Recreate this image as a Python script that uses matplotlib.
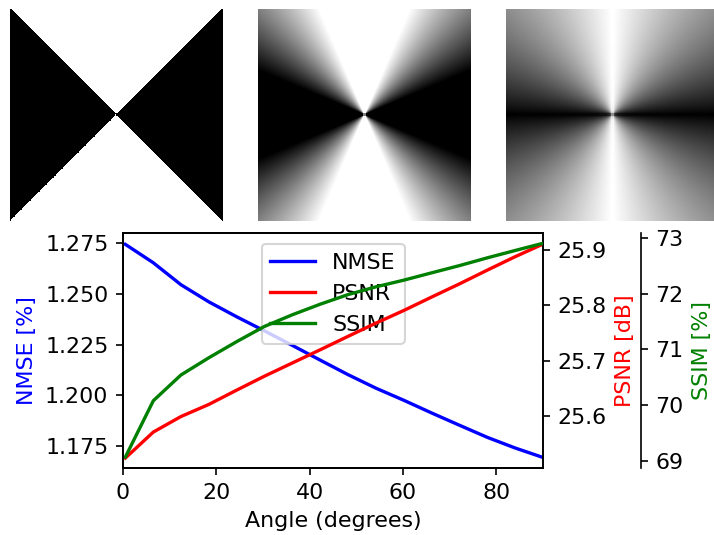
import numpy as np
import matplotlib
matplotlib.use('Agg')
import matplotlib.pyplot as plt

# angles (degrees) and metrics
angles = [0.5, 6.5, 12.4, 18.4, 24.4, 30.3, 36.3, 42.3, 48.2, 54.2, 60.2, 66.1, 72.1, 78.1, 84.0, 90.0]
nmse = [1.2745, 1.2654, 1.2546, 1.2461, 1.2387, 1.2318, 1.2246, 1.2173, 1.2102, 1.2035,
        1.1975, 1.1913, 1.1852, 1.1792, 1.1740, 1.1693]
psnr = [25.524, 25.571, 25.599, 25.621, 25.647, 25.672, 25.696, 25.720, 25.744, 25.768,
        25.791, 25.815, 25.839, 25.864, 25.888, 25.911]
ssim = [69.07, 70.08, 70.54, 70.85, 71.14, 71.41, 71.62, 71.81, 71.98, 72.12,
        72.24, 72.37, 72.50, 72.64, 72.77, 72.90]

plt.rcParams['font.size'] = 10.6

W, H = 714, 535
fig = plt.figure(figsize=(W / 150, H / 150), dpi=150)


def px_axes(x0, y0, x1, y1):
    # axes from pixel box (top-left origin)
    return fig.add_axes([x0 / W, 1 - y1 / H, (x1 - x0) / W, (y1 - y0) / H])


# angular test images
n = 212
yy, xx = np.mgrid[1:-1:n * 1j, -1:1:n * 1j]
theta = np.degrees(np.arctan2(np.abs(yy), np.abs(xx)))  # 0 = horizontal, 90 = vertical
img1 = (theta > 45).astype(float)
img2 = np.clip((theta - 22.5) / 44.5, 0, 1)
img3 = (theta / 90) ** 0.85

for x0, img in zip([10, 258, 506], [img1, img2, img3]):
    ax = px_axes(x0, 9, x0 + 213, 221)
    ax.imshow(img, cmap='gray', vmin=0, vmax=1, aspect='auto', interpolation='nearest')
    ax.axis('off')

ax1 = px_axes(123, 233, 543, 468)
ax2 = ax1.twinx()
ax3 = ax1.twinx()
ax3.spines['right'].set_position(('axes', 1.233))

l1, = ax1.plot(angles, nmse, color='blue', lw=1.6, label='NMSE')
l2, = ax2.plot(angles, psnr, color='red', lw=1.6, label='PSNR')
l3, = ax3.plot(angles, ssim, color='green', lw=1.6, label='SSIM')

ax1.set_xlim(0, 90)
ax1.set_ylim(1.1641, 1.2801)
ax2.set_ylim(25.506, 25.931)
ax3.set_ylim(68.875, 73.084)
ax1.set_yticks([1.175, 1.200, 1.225, 1.250, 1.275])
ax2.set_yticks([25.6, 25.7, 25.8, 25.9])
ax3.set_yticks([69, 70, 71, 72, 73])

ax1.set_xlabel('Angle (degrees)')
ax1.set_ylabel('NMSE [%]', color='blue')
ax2.set_ylabel('PSNR [dB]', color='red')
ax3.set_ylabel('SSIM [%]', color='green')

ax1.legend(handles=[l1, l2, l3], loc='upper center')

fig.savefig('out.png', dpi=150)
